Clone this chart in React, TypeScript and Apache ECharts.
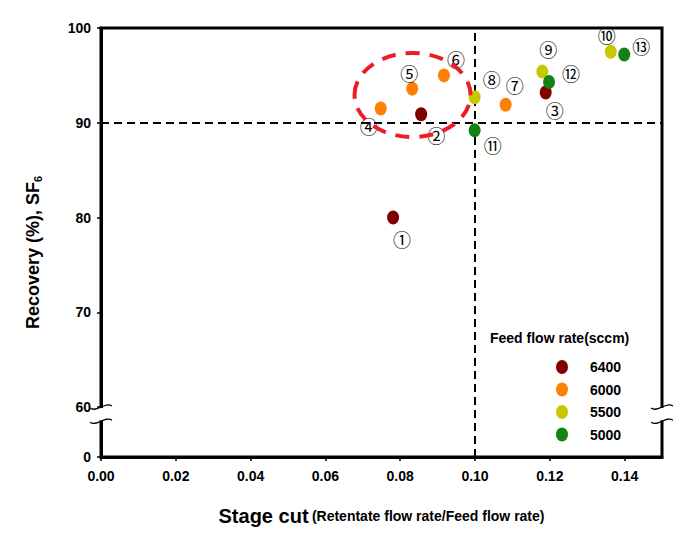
import React, { useEffect, useRef } from 'react';
import * as echarts from 'echarts';

// ---- data ----
const feedRates = ['6400', '6000', '5500', '5000'];
const seriesColors = ['#800000', '#ff8000', '#c8c800', '#128212'];

const points6400 = [[0.0781, 80.0], [0.0856, 90.9], [0.1189, 93.2]];
const names6400 = ['①', '②', '③'];
const points6000 = [[0.0748, 91.5], [0.0832, 93.6], [0.0917, 95.0], [0.1082, 91.9]];
const names6000 = ['④', '⑤', '⑥', '⑦'];
const points5500 = [[0.0999, 92.7], [0.118, 95.4], [0.1363, 97.5]];
const names5500 = ['⑧', '⑨', '⑩'];
const points5000 = [[0.0999, 89.2], [0.1198, 94.3], [0.1399, 97.2]];
const names5000 = ['⑪', '⑫', '⑬'];

const xTicks = [0, 0.02, 0.04, 0.06, 0.08, 0.1, 0.12, 0.14];
const yTicks = [60, 70, 80, 90, 100];
const Y_ZERO_POS = 54.73; // broken axis: position standing for 0
const Y_BREAK_LOW = 58.5;
const refX = 0.1;
const refY = 90;
const ellipseCenter = [0.0833, 92.93];

// ---- layout (label offsets in px) ----
const offsets6400 = [[9, 21], [15, 21], [9, 18]];
const offsets6000 = [[-12, 17], [-3, -16], [12, -16], [9, -20]];
const offsets5500 = [[17, -18], [6, -23], [-4, -17]];
const offsets5000 = [[18, 15], [22, -9], [17, -9]];

const FONT = '"Liberation Sans", Arial, sans-serif';
const ELLIPSE_SYMBOL = 'path://M0,7A6,7 0 1,1 12,7A6,7 0 1,1 0,7Z';

const groups = [
  { pts: points6400, names: names6400, offs: offsets6400 },
  { pts: points6000, names: names6000, offs: offsets6000 },
  { pts: points5500, names: names5500, offs: offsets5500 },
  { pts: points5000, names: names5000, offs: offsets5000 },
];

export default function App() {
  const ref = useRef<HTMLDivElement>(null);
  useEffect(() => {
    const chart = echarts.init(ref.current!, null, { renderer: 'svg' });
    const series: any[] = groups.map((g, i) => ({
      name: feedRates[i],
      type: 'scatter',
      symbol: ELLIPSE_SYMBOL,
      symbolSize: [12, 14],
      itemStyle: { color: seriesColors[i], opacity: 1 },
      z: 5,
      label: {
        show: true,
        position: 'inside',
        formatter: '{b}',
        color: '#000',
        fontSize: 18,
        fontFamily: '"Noto Sans CJK JP", "DejaVu Sans", sans-serif',
      },
      data: g.pts.map((p, j) => ({
        value: p,
        name: g.names[j],
        label: { offset: g.offs[j] },
      })),
    }));
    series.push({
      type: 'scatter',
      data: [],
      silent: true,
      markLine: {
        symbol: 'none',
        silent: true,
        animation: false,
        label: { show: false },
        lineStyle: { color: '#000', width: 2, type: [8, 5] },
        data: [{ xAxis: refX }, { yAxis: refY }],
      },
    });

    chart.setOption({
      animation: false,
      backgroundColor: '#fff',
      textStyle: { fontFamily: FONT },
      title: {
        text: 'Feed flow rate(sccm)',
        left: 490,
        top: 331,
        padding: 0,
        textStyle: { fontSize: 14, fontWeight: 'bold', color: '#000', fontFamily: FONT },
      },
      legend: {
        orient: 'vertical',
        left: 551,
        top: 355,
        itemWidth: 12,
        itemHeight: 14,
        itemGap: 8.5,
        icon: ELLIPSE_SYMBOL,
        data: feedRates,
        textStyle: {
          fontSize: 14,
          fontWeight: 'bold',
          color: '#000',
          fontFamily: FONT,
          padding: [0, 0, 0, 17],
        },
      },
      grid: {
        left: 101,
        right: 25,
        top: 28,
        bottom: 92,
        show: true,
        borderColor: '#000',
        borderWidth: 3,
        outerBoundsMode: 'none',
        containLabel: false,
      },
      xAxis: {
        type: 'value',
        min: 0,
        max: 0.15,
        splitLine: { show: false },
        axisLine: { lineStyle: { color: '#000', width: 3 } },
        axisTick: { show: true, length: 4, customValues: xTicks, lineStyle: { color: '#000', width: 1.5 } },
        axisLabel: {
          customValues: xTicks,
          formatter: (v: number) => v.toFixed(2),
          fontSize: 14,
          fontWeight: 'bold',
          color: '#000',
          margin: 12,
          fontFamily: FONT,
        },
        name: '{a|Stage cut} {b|(Retentate flow rate/Feed flow rate)}',
        nameLocation: 'middle',
        nameGap: 49,
        nameTextStyle: {
          rich: {
            a: { fontSize: 20, fontWeight: 'bold', color: '#000', fontFamily: FONT },
            b: { fontSize: 14, fontWeight: 'bold', color: '#000', fontFamily: FONT },
          },
        },
      },
      yAxis: {
        type: 'value',
        min: Y_ZERO_POS,
        max: 100,
        splitLine: { show: false },
        axisLine: { lineStyle: { color: '#000', width: 3 } },
        axisTick: { show: true, length: 4, customValues: [Y_ZERO_POS, ...yTicks], lineStyle: { color: '#000', width: 1.5 } },
        axisLabel: {
          customValues: [Y_ZERO_POS, ...yTicks],
          formatter: (v: number) => (v < 59 ? '0' : String(Math.round(v))),
          fontSize: 14,
          fontWeight: 'bold',
          color: '#000',
          margin: 10,
          fontFamily: FONT,
        },
        name: 'Recovery (%), SF{sub|6}',
        nameLocation: 'middle',
        nameRotate: 90,
        nameGap: 58,
        nameTextStyle: {
          fontSize: 18,
          fontWeight: 'bold',
          color: '#000',
          fontFamily: FONT,
          padding: [0, 20, 0, 0],
          rich: {
            sub: { fontSize: 11, fontWeight: 'bold', color: '#000', fontFamily: FONT, padding: [10, 0, 0, 0] },
          },
        },
      },
      series,
    });

    const px = (x: number, y: number) => chart.convertToPixel({ gridIndex: 0 }, [x, y]) as number[];
    const leftX = px(0, 60)[0];
    const rightX = px(0.15, 60)[0];
    const yTop = px(0, 60)[1];
    const yLow = px(0, Y_BREAK_LOW)[1];
    const c = px(ellipseCenter[0], ellipseCenter[1]);

    const squiggle = (ax: number, y: number) => ({
      type: 'bezierCurve',
      z: 101,
      shape: { x1: ax - 11, y1: y + 1, cpx1: ax - 4, cpy1: y + 6, cpx2: ax + 4, cpy2: y - 6, x2: ax + 11, y2: y - 1 },
      style: { stroke: '#000', lineWidth: 1.2, fill: 'none' },
    });
    const gap = (ax: number) => ({
      type: 'rect',
      z: 100,
      shape: { x: ax - 4, y: yTop + 1, width: 8, height: yLow - yTop - 2 },
      style: { fill: '#fff' },
    });

    chart.setOption({
      graphic: [
        gap(leftX),
        gap(rightX),
        squiggle(leftX, yTop),
        squiggle(leftX, yLow),
        squiggle(rightX, yTop),
        squiggle(rightX, yLow),
        {
          type: 'ellipse',
          z: 50,
          shape: { cx: c[0], cy: c[1], rx: 58, ry: 42 },
          style: { fill: 'none', stroke: '#ee1c24', lineWidth: 4, lineDash: [14, 10] },
        },
      ],
    });

    return () => chart.dispose();
  }, []);
  return (
    <div
      ref={ref}
      style={{ position: 'fixed', left: 0, top: 0, width: 687, height: 549, background: '#fff' }}
    />
  );
}
